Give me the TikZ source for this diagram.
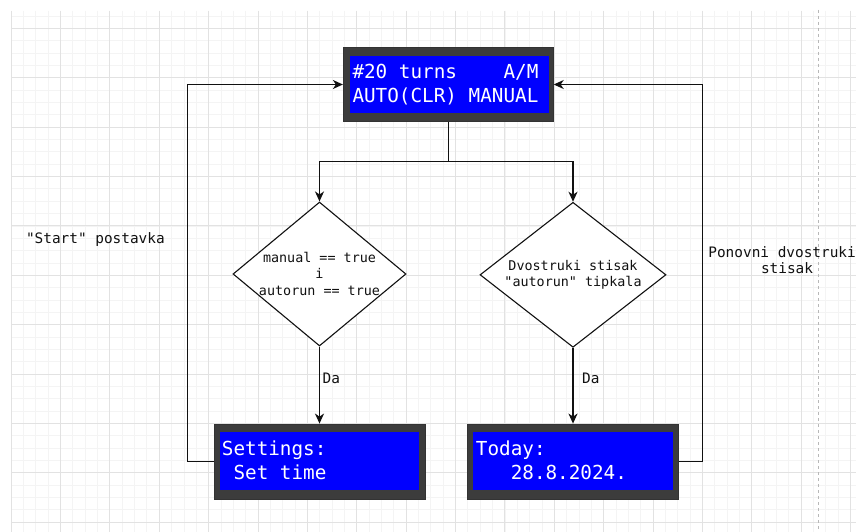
\documentclass[tikz,border=0pt]{standalone}
\usepackage{fontspec}
\newfontfamily\mono{DejaVu Sans Mono}
\usetikzlibrary{shapes.geometric,arrows.meta}
\definecolor{lcdgray}{HTML}{3C3C3C}
\definecolor{lcdblue}{HTML}{0000FF}
\definecolor{gminor}{HTML}{F4F4F4}
\definecolor{gmajor}{HTML}{E2E2E2}
\definecolor{txt}{HTML}{111111}
\begin{document}
\begin{tikzpicture}[x=1pt,y=-1pt,
 lcd/.style={draw=black!80, fill=lcdgray, line width=0.8pt, minimum width=211pt, minimum height=75pt, inner sep=0pt},
 dec/.style={diamond, draw=txt, line width=1.1pt, fill=white, inner sep=0pt},
 conn/.style={draw=txt, line width=1.3pt},
 arr/.style={conn, -{Stealth[length=10pt,width=9pt,inset=3pt]}},
 lcdtxt/.style={text=white, font=\mono\fontsize{19.3}{24}\selectfont, inner sep=0pt, anchor=base west},
 dtxt/.style={text=txt, font=\mono\fontsize{13.4}{16}\selectfont, inner sep=0pt, anchor=base},
 ltxt/.style={text=txt, font=\mono\fontsize{14.4}{17}\selectfont, inner sep=0pt, anchor=base west}]
\useasboundingbox (0,0) rectangle (856,532);
\fill[white] (0,0) rectangle (856,532);
% grid
\foreach \k in {0,...,68} \draw[gminor, line width=0.6pt] ({11+\k*12.345},11) -- ({11+\k*12.345},532);
\foreach \k in {-1,...,40} \draw[gminor, line width=0.6pt] (11,{28.3+\k*12.345}) -- (856,{28.3+\k*12.345});
\foreach \k in {0,...,17} \draw[gmajor, line width=0.7pt] ({11+\k*49.38},11) -- ({11+\k*49.38},532);
\foreach \k in {0,...,10} \draw[gmajor, line width=0.7pt] (11,{28.3+\k*49.38}) -- (856,{28.3+\k*49.38});
\draw[black!28, line width=0.8pt, dash pattern=on 3pt off 3pt] (818,10) -- (818,532);

% LCD boxes
\node[lcd, minimum width=210pt, minimum height=74.4pt] (top) at (448.3,84.5) {};
\fill[lcdblue] ([xshift=6.7pt,yshift=-8.7pt]top.north west) rectangle ([xshift=-5pt,yshift=9pt]top.south east);
\node[lcdtxt] (topl1) at (352.3,78.3) {\#20 turns\ \ \ \ A/M};
\node[lcdtxt] (topl2) at (352.3,102.7) {AUTO(CLR) MANUAL};

\node[lcd] (b1) at (319.5,461.5) {};
\fill[lcdblue] ([xshift=6.7pt,yshift=-8.7pt]b1.north west) rectangle ([xshift=-6pt,yshift=9pt]b1.south east);
\node[lcdtxt] (b1l1) at (221.7,455.7) {Settings:};
\node[lcdtxt] (b1l2) at (221.7,479.3) {\ Set time};

\node[lcd] (b2) at (572.8,461.5) {};
\fill[lcdblue] ([xshift=6pt,yshift=-8.7pt]b2.north west) rectangle ([xshift=-6pt,yshift=9pt]b2.south east);
\node[lcdtxt] (b2l1) at (475.7,455.7) {Today:};
\node[lcdtxt] (b2l2) at (475.7,479.3) {\ \ \ 28.8.2024.};

% decisions
\node[dec, minimum width=173pt, minimum height=144pt] (d1) at (319.5,274) {};
\node[dtxt] (d1t1) at (319.5,262.3) {manual == true};
\node[dtxt] (d1t2) at (319.5,278.7) {i};
\node[dtxt] (d1t3) at (319.5,295) {autorun == true};

\node[dec, minimum width=186pt, minimum height=145pt] (d2) at (573,274.8) {};
\node[dtxt] (d2t1) at (573,270) {Dvostruki stisak};
\node[dtxt] (d2t2) at (573,286.7) {"autorun" tipkala};

% connectors
\coordinate (split) at (448.3,161.5);
\draw[conn] (top.south) -- (split);
\draw[arr] (split) -| (d1.north);
\draw[arr] (split) -| (d2.north);
\draw[arr] (d1.south) -- (d1.south |- b1.north);
\draw[arr] (d2.south) -- (d2.south |- b2.north);
\draw[arr] (b1.west) -- ++(-26,0) |- (top.west);
\draw[arr] (b2.east) -- ++(24,0) |- (top.east);

% labels
\node[ltxt] (da1) at (322.5,383.3) {Da};
\node[ltxt] (da2) at (581.9,383.3) {Da};
\node[ltxt] (start) at (25.8,243.8) {"Start" postavka};
\node[ltxt] (pon1) at (708.2,257.3) {Ponovni dvostruki};
\node[ltxt] (pon2) at (760.8,273.5) {stisak};
\end{tikzpicture}
\end{document}
